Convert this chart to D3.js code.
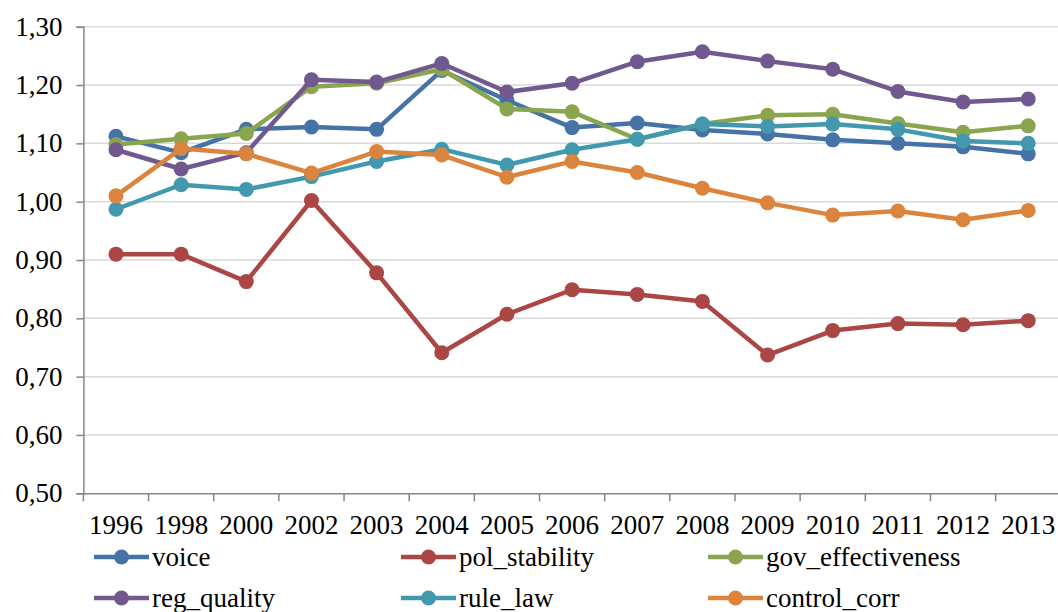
<!DOCTYPE html>
<html>
<head>
<meta charset="utf-8">
<script src="https://cdn.jsdelivr.net/npm/d3@7"></script>
<style>
  html, body { margin: 0; padding: 0; background: #fff; }
  svg { display: block; }
</style>
</head>
<body>
<svg id="chart" width="1058" height="612"></svg>
<script>
// Governance indicators by year
const years = ["1996","1998","2000","2002","2003","2004","2005","2006","2007","2008","2009","2010","2011","2012","2013"];

const voice            = [1.112, 1.084, 1.124, 1.128, 1.124, 1.225, 1.174, 1.127, 1.135, 1.123, 1.116, 1.106, 1.100, 1.094, 1.082];
const pol_stability    = [0.910, 0.910, 0.863, 1.002, 0.878, 0.741, 0.807, 0.849, 0.841, 0.829, 0.737, 0.779, 0.791, 0.789, 0.796];
const gov_effectiveness= [1.098, 1.108, 1.117, 1.197, 1.203, 1.227, 1.159, 1.154, 1.107, 1.133, 1.148, 1.150, 1.134, 1.119, 1.130];
const reg_quality      = [1.089, 1.056, 1.084, 1.209, 1.205, 1.237, 1.188, 1.203, 1.240, 1.257, 1.241, 1.227, 1.189, 1.171, 1.176];
const rule_law         = [0.987, 1.029, 1.021, 1.043, 1.069, 1.090, 1.063, 1.089, 1.107, 1.133, 1.129, 1.133, 1.124, 1.104, 1.100];
const control_corr     = [1.010, 1.091, 1.082, 1.049, 1.086, 1.080, 1.042, 1.069, 1.050, 1.023, 0.998, 0.977, 0.984, 0.969, 0.985];

const seriesNames  = ["voice", "pol_stability", "gov_effectiveness", "reg_quality", "rule_law", "control_corr"];
const seriesValues = [voice, pol_stability, gov_effectiveness, reg_quality, rule_law, control_corr];
const seriesColors = ["#4573A7", "#AA4643", "#89A54E", "#71588F", "#4198AF", "#DB843D"];

const yTicks = [0.5, 0.6, 0.7, 0.8, 0.9, 1.0, 1.1, 1.2, 1.3];

const FONT = '"Liberation Serif", "Times New Roman", serif';

const svg = d3.select("#chart");

const plot = { left: 83.4, right: 1060.8, top: 26.7, bottom: 493.3 };

const x = d3.scaleBand().domain(years).range([plot.left, plot.right]).paddingInner(0).paddingOuter(0);
const y = d3.scaleLinear().domain([0.5, 1.3]).range([plot.bottom, plot.top]);
const cx = d => x(d) + x.bandwidth() / 2;

const locale = d3.formatLocale({ decimal: ",", thousands: ".", grouping: [3], currency: ["", " €"] });
const fmt = locale.format(".2f");

// horizontal gridlines
svg.append("g")
  .selectAll("line")
  .data(yTicks.filter(v => v > 0.5))
  .join("line")
  .attr("x1", plot.left).attr("x2", plot.right)
  .attr("y1", d => y(d)).attr("y2", d => y(d))
  .attr("stroke", "#D9D9D9").attr("stroke-width", 1.5);

// y axis
const yAxis = svg.append("g")
  .attr("transform", `translate(${plot.left},0)`)
  .call(d3.axisLeft(y).tickValues(yTicks).tickFormat(fmt).tickSize(7).tickPadding(14));
yAxis.select(".domain").attr("stroke", "#868686").attr("stroke-width", 1.5);
yAxis.selectAll(".tick line").attr("stroke", "#868686").attr("stroke-width", 1.5);
yAxis.selectAll(".tick text")
  .style("font-family", FONT).style("font-size", "27px").attr("fill", "#000");

// x axis: labels centred in each band, tick marks at band boundaries
const xAxis = svg.append("g")
  .attr("transform", `translate(0,${plot.bottom})`)
  .call(d3.axisBottom(x).tickSize(0).tickPadding(22));
xAxis.select(".domain").attr("stroke", "#868686").attr("stroke-width", 1.5);
xAxis.selectAll(".tick text")
  .style("font-family", FONT).style("font-size", "27px").attr("fill", "#000");
const edges = years.map(d => x(d)).concat([x.range()[1]]);
xAxis.append("g").selectAll("line")
  .data(edges)
  .join("line")
  .attr("x1", d => d).attr("x2", d => d)
  .attr("y1", 0).attr("y2", 8)
  .attr("stroke", "#868686").attr("stroke-width", 1.5);

// series lines and markers
const line = d3.line().x((v, i) => cx(years[i])).y(v => y(v));
seriesNames.forEach((name, k) => {
  const g = svg.append("g").attr("class", "series " + name);
  g.append("path")
    .datum(seriesValues[k])
    .attr("d", line)
    .attr("fill", "none")
    .attr("stroke", seriesColors[k])
    .attr("stroke-width", 4.5)
    .attr("stroke-linejoin", "round");
  g.selectAll("circle")
    .data(seriesValues[k])
    .join("circle")
    .attr("cx", (v, i) => cx(years[i]))
    .attr("cy", v => y(v))
    .attr("r", 7.5)
    .attr("fill", seriesColors[k]);
});

// legend: three columns, two rows
const legend = svg.append("g");
const colX = [94, 401, 708];
const rowY = [557, 598];
seriesNames.forEach((name, k) => {
  const gx = colX[k % 3], gy = rowY[Math.floor(k / 3)];
  const item = legend.append("g").attr("transform", `translate(${gx},${gy})`);
  item.append("line")
    .attr("x1", 0).attr("x2", 55).attr("y1", 0).attr("y2", 0)
    .attr("stroke", seriesColors[k]).attr("stroke-width", 4.5);
  item.append("circle").attr("cx", 27.5).attr("cy", 0).attr("r", 7.5).attr("fill", seriesColors[k]);
  item.append("text")
    .attr("x", 58).attr("y", 0).attr("dy", "0.32em")
    .style("font-family", FONT)
    .style("font-size", "27px")
    .attr("fill", "#000")
    .text(name);
});
</script>
</body>
</html>
